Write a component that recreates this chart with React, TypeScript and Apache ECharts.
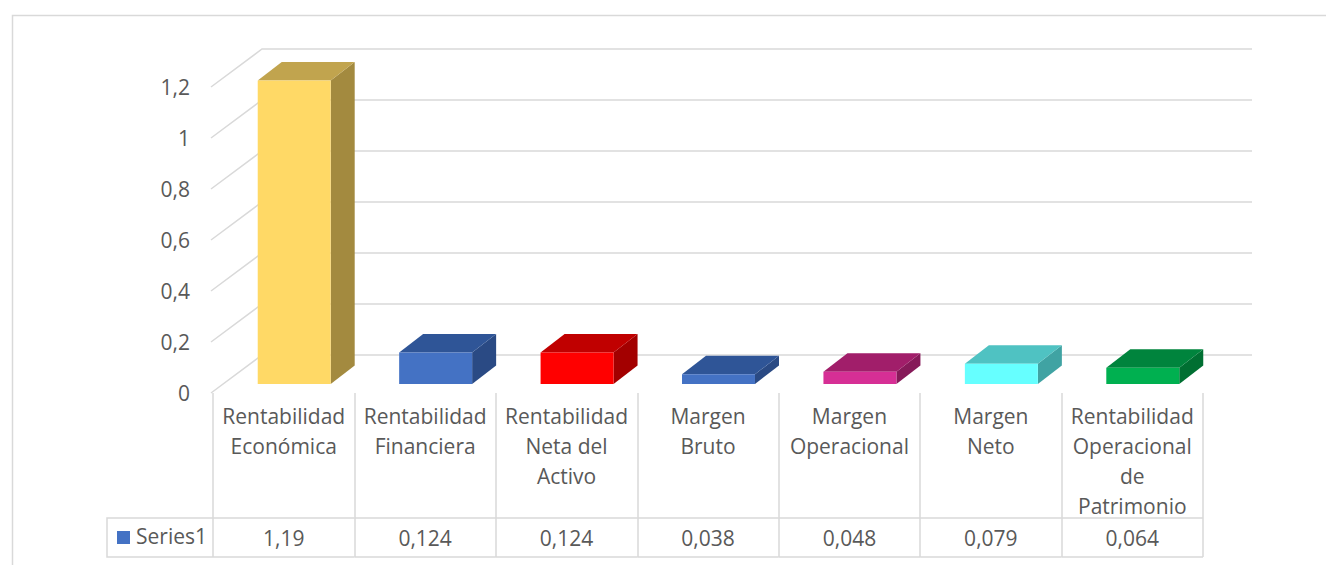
import React, { useEffect, useRef } from "react";
import * as echarts from "echarts";

// Category names (line breaks as shown under each column)
const categories = [
  "Rentabilidad\nEconómica",
  "Rentabilidad\nFinanciera",
  "Rentabilidad\nNeta del\nActivo",
  "Margen\nBruto",
  "Margen\nOperacional",
  "Margen\nNeto",
  "Rentabilidad\nOperacional\nde\nPatrimonio",
];
const values = [1.19, 0.124, 0.124, 0.038, 0.048, 0.079, 0.064];
const yTicks = [0, 0.2, 0.4, 0.6, 0.8, 1, 1.2];
const seriesName = "Series1";

// Face colours for each column: front, top, right side
const frontColors = ["#FFD966", "#4472C4", "#FF0000", "#4472C4", "#D62F95", "#66FFFF", "#00B050"];
const topColors = ["#C1A44E", "#2F5597", "#C00000", "#2F5597", "#A11E6A", "#4FC2C2", "#00843D"];
const sideColors = ["#A38A3F", "#2A4A84", "#A30000", "#2A4A84", "#861A59", "#40A3A3", "#006F32"];

const GRID = "#D9D9D9";
const TEXT = "#595959";
const FONT = "'Open Sans', sans-serif";
const FS = 21;

// 3D depth offsets (pixels)
const WALL_DX = 49;
const WALL_DY = -38;
const BAR_FX = 10.5;
const BAR_FY = -9;
const BAR_DX = 24;
const BAR_DY = -18.5;
const BAR_RATIO = 0.516;

const fmt = (v: number) => String(v).replace(".", ",");

export default function App() {
  const ref = useRef<HTMLDivElement>(null);

  useEffect(() => {
    if (!ref.current) return;
    const chart = echarts.init(ref.current, undefined, { renderer: "svg" });

    const wallSeries = {
      type: "custom",
      name: "wall",
      silent: true,
      z: 1,
      data: yTicks.map((t) => [0, t]),
      renderItem: (params: any, api: any) => {
        const v = api.value(1);
        const band = api.size([1, 0])[0];
        const p0 = api.coord([0, v]);
        const pN = api.coord([categories.length - 1, v]);
        const xL = p0[0] - band / 2 - 2;
        const xR = pN[0] + band / 2;
        const y = p0[1];
        return {
          type: "polyline",
          shape: {
            points: [
              [xL, y],
              [xL + 2 + WALL_DX, y + WALL_DY],
              [xR + WALL_DX, y + WALL_DY],
            ],
          },
          style: { stroke: GRID, lineWidth: 1.5, fill: "none" },
        };
      },
    };

    const barSeries = {
      type: "custom",
      name: seriesName,
      z: 3,
      data: values.map((v, i) => [i, v]),
      renderItem: (params: any, api: any) => {
        const i = api.value(0);
        const v = api.value(1);
        const band = api.size([1, 0])[0];
        const base = api.coord([i, 0]);
        const top = api.coord([i, v]);
        const w = band * BAR_RATIO;
        const L = base[0] - w / 2 + BAR_FX;
        const R = L + w;
        const B = base[1] + BAR_FY;
        const T = top[1] + BAR_FY;
        return {
          type: "group",
          children: [
            {
              type: "polygon",
              shape: { points: [[R, T], [R + BAR_DX, T + BAR_DY], [R + BAR_DX, B + BAR_DY], [R, B]] },
              style: { fill: sideColors[i] },
            },
            {
              type: "polygon",
              shape: { points: [[L, T], [R, T], [R + BAR_DX, T + BAR_DY], [L + BAR_DX, T + BAR_DY]] },
              style: { fill: topColors[i] },
            },
            {
              type: "rect",
              shape: { x: L, y: T, width: w, height: B - T },
              style: { fill: frontColors[i] },
            },
          ],
        };
      },
    };

    // Data table row beneath the category labels
    const tableSeries = {
      type: "custom",
      name: "table",
      silent: true,
      z: 2,
      data: values.map((v, i) => [i, v]),
      renderItem: (params: any, api: any) => {
        const i = api.value(0);
        const v = api.value(1);
        const band = api.size([1, 0])[0];
        const base = api.coord([i, 0]);
        const x0 = base[0] - band / 2;
        const x1 = base[0] + band / 2;
        const yTop = base[1] + 125;
        const yBot = base[1] + 164;
        return {
          type: "group",
          children: [
            { type: "line", shape: { x1: x0, y1: yTop, x2: x1, y2: yTop }, style: { stroke: GRID, lineWidth: 1.5 } },
            { type: "line", shape: { x1: x0, y1: yBot, x2: x1, y2: yBot }, style: { stroke: GRID, lineWidth: 1.5 } },
            {
              type: "text",
              x: base[0],
              y: (yTop + yBot) / 2,
              style: {
                text: fmt(v),
                fill: TEXT,
                font: `${FS}px ${FONT}`,
                align: "center",
                verticalAlign: "middle",
              },
            },
          ],
        };
      },
    };

    chart.setOption({
      animation: false,
      backgroundColor: "#FFFFFF",
      grid: {
        left: 213,
        right: 123,
        top: 87,
        bottom: 172,
        containLabel: false,
        outerBoundsMode: "none",
      },
      xAxis: {
        type: "category",
        data: categories,
        boundaryGap: true,
        axisLine: { show: false },
        axisTick: { show: true, length: 164, lineStyle: { color: GRID, width: 1.5 } },
        axisLabel: {
          interval: 0,
          margin: 8,
          color: TEXT,
          fontFamily: FONT,
          fontSize: FS,
          lineHeight: 30,
          align: "center",
        },
        splitLine: { show: false },
      },
      yAxis: {
        type: "value",
        min: 0,
        max: 1.2,
        interval: 0.2,
        axisLine: { show: false },
        axisTick: { show: false },
        splitLine: { show: false },
        axisLabel: {
          margin: 23,
          color: TEXT,
          fontFamily: FONT,
          fontSize: FS,
          formatter: (v: number) => fmt(v),
        },
      },
      graphic: [
        {
          type: "rect",
          left: 10,
          top: 13,
          shape: { width: 1400, height: 600 },
          style: { fill: "none", stroke: GRID, lineWidth: 1.5 },
          silent: true,
        },
        {
          type: "polyline",
          shape: { points: [[213, 518], [107, 518], [107, 557], [213, 557]] },
          style: { fill: "none", stroke: GRID, lineWidth: 1.5 },
          silent: true,
        },
        {
          type: "rect",
          left: 117,
          top: 531,
          shape: { width: 13, height: 13 },
          style: { fill: frontColors[1] },
          silent: true,
        },
        {
          type: "text",
          left: 136,
          top: 525,
          style: { text: seriesName, fill: TEXT, font: `${FS}px ${FONT}` },
          silent: true,
        },
      ],
      series: [wallSeries, tableSeries, barSeries],
    });

    return () => chart.dispose();
  }, []);

  return (
    <div
      ref={ref}
      style={{ position: "absolute", left: 0, top: 0, width: 1326, height: 565 }}
    />
  );
}
